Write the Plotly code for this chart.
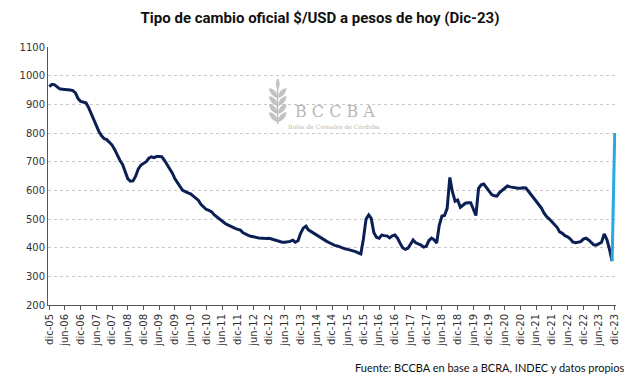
import pandas as pd
import plotly.graph_objects as go

# Monthly real exchange rate (pesos of Dec-23), dic-05 .. nov-23
values = [
    962, 970, 968, 962, 954, 953, 953, 951, 950, 948, 940, 920,
    910, 908, 905, 890, 868, 845, 825, 805, 790, 780, 777, 768,
    758, 742, 722, 705, 690, 665, 640, 632, 633, 650, 675, 688,
    694, 700, 712, 717, 714, 718, 718, 717, 705, 690, 675, 660,
    640, 628, 612, 600, 594, 591, 588, 580, 574, 565, 550, 540,
    533, 530, 525, 515, 507, 500, 493, 486, 480, 475, 471, 467,
    464, 461, 452, 447, 443, 440, 437, 436, 434, 433, 433, 432,
    433, 430, 426, 423, 421, 419, 419, 420, 422, 426, 419, 424,
    450, 468, 475, 462, 456, 450, 444, 437, 432, 427, 422, 417,
    412, 408, 406, 402, 399, 396, 394, 392, 389, 386, 382, 378,
    430, 500, 514, 502, 452, 436, 433, 444, 442, 441, 434, 441,
    444, 433, 415, 400, 394, 398, 412, 427, 417, 414, 409, 402,
    405, 425, 433, 428, 416, 478, 510, 512, 537, 645, 595, 562,
    566, 541, 548, 555, 557, 557, 535, 512, 607, 619, 622, 610,
    598, 585, 581, 580, 592, 600, 610, 615, 612, 610, 608, 607,
    607, 609, 608, 596, 584, 574, 562, 550, 538, 520, 508, 500,
    490, 480, 470, 455, 450, 442, 438, 431, 420, 417, 418, 421,
    430, 433, 427, 418, 410, 409, 413, 419, 448, 428, 395, 353,
]
last_values = [353, 800]  # nov-23 -> dic-23 jump

tick_labels = [
    "dic-05", "jun-06", "dic-06", "jun-07", "dic-07", "jun-08", "dic-08",
    "jun-09", "dic-09", "jun-10", "dic-10", "jun-11", "dic-11", "jun-12",
    "dic-12", "jun-13", "dic-13", "jun-14", "dic-14", "jun-15", "dic-15",
    "jun-16", "dic-16", "jun-17", "dic-17", "jun-18", "dic-18", "jun-19",
    "dic-19", "jun-20", "dic-20", "jun-21", "dic-21", "jun-22", "dic-22",
    "jun-23", "dic-23",
]

dates = pd.date_range("2005-12-01", periods=len(values), freq="MS")
last_dates = pd.date_range("2023-11-01", periods=2, freq="MS")
tick_vals = pd.date_range("2005-12-01", periods=len(tick_labels), freq="6MS")

fig = go.Figure()
fig.add_trace(go.Scatter(x=dates, y=values, mode="lines",
                         line=dict(color="#0B1F55", width=3), showlegend=False,
                         hoverinfo="skip"))
fig.add_trace(go.Scatter(x=last_dates, y=last_values, mode="lines",
                         line=dict(color="#29A9E1", width=3), showlegend=False,
                         hoverinfo="skip"))

# page has an 8px body margin: figure origin sits at (8, 8)
fig.update_layout(
    width=640, height=379,
    margin=dict(l=32, r=32, t=39, b=82),
    paper_bgcolor="white", plot_bgcolor="white",
    title=dict(text="<b>Tipo de cambio oficial $/USD a pesos de hoy (Dic-23)</b>",
               x=(320 - 8) / 640, xanchor="center", y=1 - 10 / 379, yanchor="middle",
               font=dict(family="Roboto", size=15, color="#111111")),
    font=dict(family="DejaVu Sans", size=10, color="#333333"),
)
fig.update_xaxes(
    range=[pd.Timestamp("2005-11-16"), pd.Timestamp("2023-12-16")],
    tickmode="array", tickvals=tick_vals, ticktext=tick_labels,
    tickangle=-90, ticks="outside", ticklen=4, tickcolor="#555555",
    showline=True, linecolor="#555555", linewidth=1,
    showgrid=False, tickfont=dict(family="DejaVu Sans", size=10, color="#333333"),
)
fig.update_yaxes(
    range=[200, 1100], dtick=100, showgrid=True, gridcolor="#C8C8C8",
    griddash="dot", gridwidth=1, showline=True, linecolor="#555555",
    linewidth=1, ticks="", zeroline=False,
    tickfont=dict(family="DejaVu Sans", size=10, color="#333333"),
)


def px(x):
    return (x - 40) / 576


def py(y):
    return (305 - y) / 258


# watermark
fig.add_annotation(text="B C C B A", xref="paper", yref="paper",
                   x=px(331), y=py(100), showarrow=False,
                   font=dict(family="DejaVu Serif", size=16, color="#B8B8B8"))
fig.add_annotation(text="Bolsa de Cereales de Córdoba", xref="paper", yref="paper",
                   x=px(330), y=py(121), showarrow=False,
                   font=dict(family="DejaVu Serif", size=6, color="#B8B8B8"))

# wheat-like mark (stem + leaves)
sx = 273
fig.add_shape(type="path", xref="paper", yref="paper",
              path=f"M {px(sx)},{py(124)} Q {px(sx-1)},{py(104)} {px(sx)},{py(84)}",
              line=dict(color="#BDBDBD", width=1.5))
for ly in (92, 100, 108, 116):
    for side in (-1, 1):
        bx, by = sx, ly + 6
        tx, ty = sx + side * 9, ly - 4
        c1x, c1y = sx + side * 1, ly - 3
        c2x, c2y = sx + side * 8, ly + 4
        path = (f"M {px(bx)},{py(by)} Q {px(c1x)},{py(c1y)} {px(tx)},{py(ty)} "
                f"Q {px(c2x)},{py(c2y)} {px(bx)},{py(by)} Z")
        fig.add_shape(type="path", xref="paper", yref="paper", path=path,
                      fillcolor="#C2C2C2", line=dict(width=0))
fig.add_shape(type="path", xref="paper", yref="paper",
              path=(f"M {px(sx)},{py(90)} Q {px(sx-4)},{py(84)} {px(sx)},{py(78)} "
                    f"Q {px(sx+4)},{py(84)} {px(sx)},{py(90)} Z"),
              fillcolor="#C2C2C2", line=dict(width=0))

fig.add_annotation(text="Fuente: BCCBA en base a BCRA, INDEC y datos propios",
                   xref="paper", yref="paper", x=px(626),
                   y=py(367), xanchor="right", yanchor="middle",
                   showarrow=False,
                   font=dict(family="Lato", size=11, color="#111111"))

fig.write_html("out.html")
